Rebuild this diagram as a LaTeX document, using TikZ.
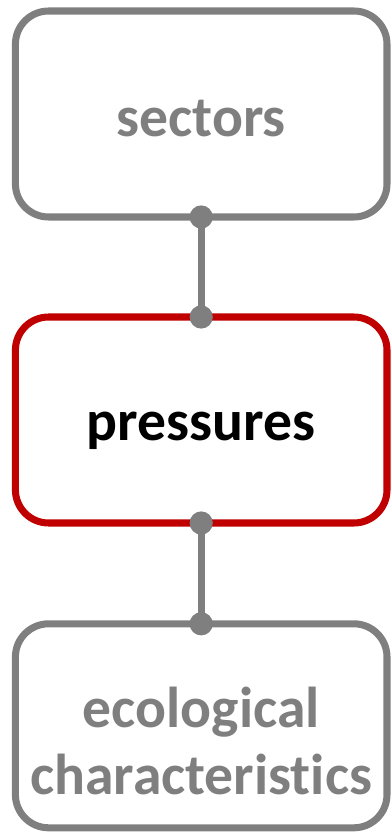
\documentclass[tikz,border=0pt]{standalone}
\usepackage{fontspec}
\setmainfont{Carlito}[Ligatures=NoCommon]
\usetikzlibrary{positioning}

\definecolor{boxgray}{HTML}{7F7F7F}
\definecolor{boxred}{HTML}{C00000}

\begin{document}
\begin{tikzpicture}[
  line cap=round,
  line join=round,
  stage/.style={draw=boxgray,line width=5pt,rounded corners=0.83cm,
    minimum width=9.29cm,minimum height=5.15cm,outer sep=0pt,
    align=center,text=boxgray,font=\fontsize{41}{47.6}\selectfont\bfseries,
    text height=1.15cm,text depth=0pt},
  focus/.style={stage,draw=boxred,text=black,text height=1cm},
  link/.style={boxgray,line width=5pt},
  joint/.style={circle,fill=boxgray,inner sep=0pt,minimum size=0.58cm}
]
\useasboundingbox (0,0) rectangle (9.775,-20.825);

% ------------------------------------------------------------------
% Stages
% ------------------------------------------------------------------
\node[stage] (sectors) at (5.03,-2.85) {sectors};
\node[focus,below=2.5cm of sectors] (pressures) {pressures};
\node[stage,below=2.52cm of pressures,minimum height=5.1cm,
  text height=3.45cm] (ecochar) {ecological\\characteristics};

% ------------------------------------------------------------------
% Links
% ------------------------------------------------------------------
\node[joint] (j1) at (sectors.south) {};
\node[joint] (j2) at (pressures.north) {};
\node[joint] (j3) at (pressures.south) {};
\node[joint] (j4) at (ecochar.north) {};

\draw[link] (j1.center) -- (j2.center);
\draw[link] (j3.center) -- (j4.center);

\end{tikzpicture}
\end{document}
